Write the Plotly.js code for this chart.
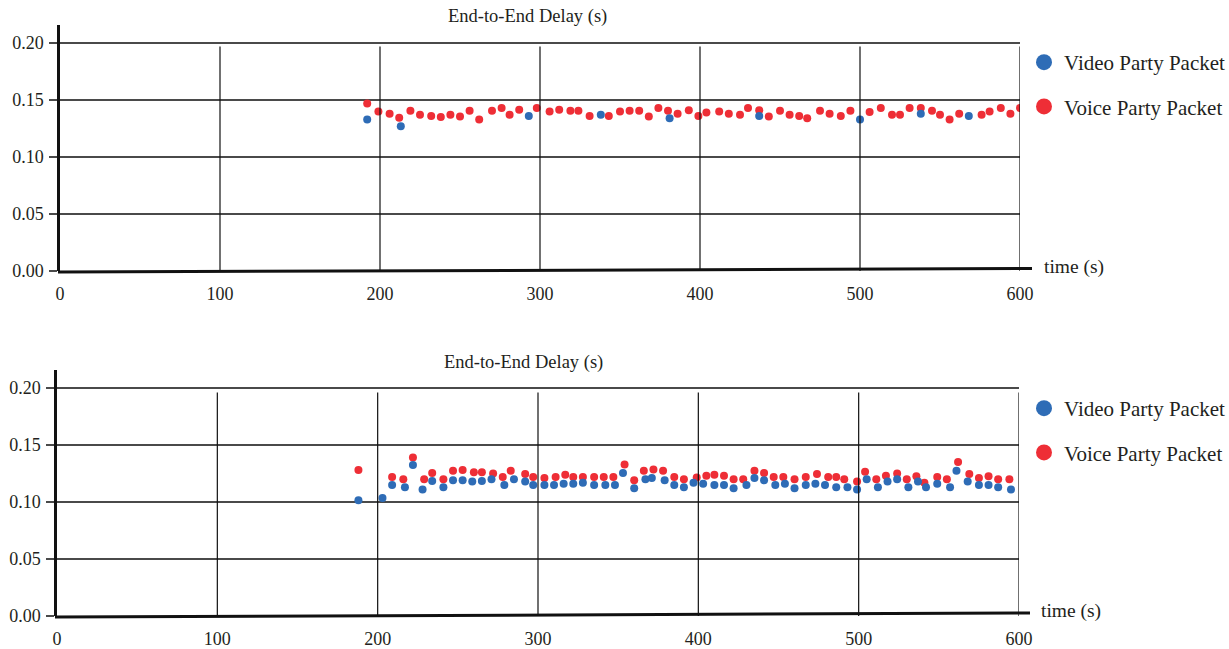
<!DOCTYPE html>
<html>
<head>
<meta charset="utf-8">
<script src="https://cdn.plot.ly/plotly-3.0.1.min.js"></script>
<style>html,body{margin:0;padding:0;background:#fff;}#chart{width:1229px;height:649px;}</style>
</head>
<body>
<div id="chart"></div>
<script>
// ---- data ----
const xTicks = [0, 100, 200, 300, 400, 500, 600];
const yTicks = [0, 0.05, 0.10, 0.15, 0.20];
const yTickText = ["0.00", "0.05", "0.10", "0.15", "0.20"];
const seriesNames = ["Video Party Packet", "Voice Party Packet"];
const panelTitle = "End-to-End Delay (s)";
const xLabel = "time (s)";

// top panel
const topVideoT = [192, 213, 293, 338, 381, 437, 500, 538, 568];
const topVideoY = [0.133, 0.127, 0.136, 0.137, 0.134, 0.136, 0.133, 0.138, 0.136];
const topVoiceT = [192, 199, 206, 212, 219, 225, 232, 238, 244, 250, 256, 262, 270, 276, 281, 287, 298, 306, 312, 319, 324, 331, 343, 350, 356, 362, 368, 374, 380, 386, 393, 399, 404, 412, 418, 425, 430, 437, 443, 450, 456, 462, 467, 475, 481, 488, 494, 506, 513, 520, 525, 531, 538, 545, 550, 556, 562, 576, 581, 588, 594, 600];
const topVoiceY = [0.147, 0.140, 0.138, 0.1345, 0.1405, 0.137, 0.136, 0.135, 0.137, 0.1355, 0.1405, 0.133, 0.1405, 0.143, 0.137, 0.1415, 0.143, 0.140, 0.1415, 0.1405, 0.1405, 0.136, 0.136, 0.140, 0.1405, 0.1405, 0.1355, 0.143, 0.1405, 0.138, 0.141, 0.136, 0.139, 0.140, 0.138, 0.137, 0.143, 0.141, 0.1355, 0.1405, 0.137, 0.136, 0.134, 0.1405, 0.138, 0.136, 0.1405, 0.1395, 0.143, 0.137, 0.137, 0.143, 0.143, 0.1405, 0.137, 0.133, 0.138, 0.137, 0.140, 0.143, 0.138, 0.143];

// bottom panel
const botVoiceT = [188, 209, 216, 222, 229, 234, 241, 247, 253, 260, 265, 272, 278, 283, 292, 297, 304, 311, 317, 322, 328, 335, 341, 347, 354, 360, 366, 372, 378, 385, 391, 399, 405, 410, 416, 422, 428, 435, 441, 447, 453, 460, 467, 474, 481, 486, 491, 499, 504, 511, 517, 524, 530, 536, 541, 549, 555, 562, 569, 575, 581, 587, 594];
const botVoiceY = [0.128, 0.122, 0.120, 0.139, 0.120, 0.1255, 0.120, 0.1275, 0.128, 0.126, 0.126, 0.125, 0.122, 0.1275, 0.1245, 0.122, 0.121, 0.122, 0.124, 0.122, 0.122, 0.122, 0.122, 0.122, 0.133, 0.119, 0.1275, 0.1285, 0.1275, 0.122, 0.120, 0.1215, 0.123, 0.124, 0.123, 0.120, 0.120, 0.1275, 0.1255, 0.122, 0.122, 0.120, 0.122, 0.1245, 0.122, 0.122, 0.120, 0.118, 0.1265, 0.120, 0.123, 0.125, 0.120, 0.1225, 0.117, 0.122, 0.120, 0.135, 0.1245, 0.121, 0.1225, 0.120, 0.120];
const botVideoT = [188, 203, 209, 217, 222, 228, 234, 241, 247, 253, 259, 265, 271, 279, 285, 292, 297, 304, 310, 316, 322, 328, 335, 342, 348, 353, 360, 367, 371, 379, 385, 391, 397, 403, 410, 416, 422, 430, 435, 441, 448, 454, 460, 467, 473, 479, 486, 493, 499, 505, 512, 518, 524, 531, 537, 542, 549, 557, 561, 568, 575, 581, 587, 595];
const botVideoY = [0.1015, 0.1035, 0.115, 0.113, 0.1325, 0.111, 0.1185, 0.113, 0.119, 0.119, 0.118, 0.1185, 0.120, 0.115, 0.120, 0.118, 0.115, 0.115, 0.115, 0.116, 0.116, 0.117, 0.115, 0.115, 0.115, 0.1255, 0.112, 0.120, 0.121, 0.119, 0.115, 0.113, 0.117, 0.116, 0.115, 0.115, 0.112, 0.115, 0.121, 0.119, 0.115, 0.116, 0.112, 0.115, 0.116, 0.115, 0.113, 0.113, 0.111, 0.120, 0.113, 0.118, 0.120, 0.113, 0.118, 0.113, 0.116, 0.113, 0.1275, 0.118, 0.115, 0.115, 0.113, 0.111];

// ---- styling ----
const W = 1229, H = 649;
const BLUE = "#2e6cb6", RED = "#ee2e36";
const FONT = "Liberation Serif, Times New Roman, serif";
const TXT = "#231f20";
const px = v => v / W;
const py = v => 1 - v / H;
const YMAX = 0.2158;

function scatter(t, y, color, xa, ya) {
  return {type: "scatter", mode: "markers", x: t, y: y, xaxis: xa, yaxis: ya,
    marker: {color: color, size: 8}, showlegend: false, hoverinfo: "x+y"};
}
function legendItem(name, color, xa, ya, leg, grp) {
  return {type: "scatter", mode: "markers", x: [null], y: [null], xaxis: xa, yaxis: ya,
    name: name, legend: leg, legendgroup: grp, marker: {color: color, size: 16}, showlegend: true};
}

const traces = [
  scatter(topVoiceT, topVoiceY, RED, "x", "y"),
  scatter(topVideoT, topVideoY, BLUE, "x", "y"),
  scatter(botVoiceT, botVoiceY, RED, "x2", "y2"),
  scatter(botVideoT, botVideoY, BLUE, "x2", "y2"),
  legendItem(seriesNames[0], BLUE, "x", "y", "legend", "a"),
  legendItem(seriesNames[1], RED, "x", "y", "legend", "b"),
  legendItem(seriesNames[0], BLUE, "x2", "y2", "legend2", "c"),
  legendItem(seriesNames[1], RED, "x2", "y2", "legend2", "d"),
];

function xAxis(domain, anchor) {
  return {domain: domain, anchor: anchor, range: [0, 600], tickvals: xTicks,
    showgrid: false, zeroline: false, showline: false, ticks: "", ticklabelstandoff: 10,
    tickfont: {family: FONT, size: 18, color: TXT}, fixedrange: true, automargin: false};
}
function yAxis(domain, anchor) {
  return {domain: domain, anchor: anchor, range: [0, YMAX], tickvals: yTicks, ticktext: yTickText,
    showgrid: true, gridcolor: "#4a4a4a", gridwidth: 1.5, zeroline: false,
    showline: true, linecolor: "#111", linewidth: 2.5, ticks: "outside", ticklen: 8,
    tickcolor: "#4a4a4a", tickwidth: 1.5, ticklabelstandoff: 2,
    tickfont: {family: FONT, size: 18, color: TXT}, fixedrange: true, automargin: false};
}

const shapes = [];
xTicks.forEach(t => {
  if (t === 0) return;
  shapes.push({type: "line", xref: "x", yref: "y", x0: t, x1: t, y0: 0, y1: 0.197, line: {color: "#111", width: 1.2}});
  shapes.push({type: "line", xref: "x2", yref: "y2", x0: t, x1: t, y0: 0, y1: 0.196, line: {color: "#111", width: 1.2}});
});
// slightly tilted baseline axis lines (as in the scanned figure)
shapes.push({type: "line", xref: "paper", yref: "paper", x0: px(58), x1: px(1032), y0: py(272), y1: py(268.5), line: {color: "#111", width: 3}});
shapes.push({type: "line", xref: "paper", yref: "paper", x0: px(55), x1: px(1030), y0: py(617), y1: py(613), line: {color: "#111", width: 3}});

const annFont = {family: FONT, size: 18.5, color: TXT};
const annotations = [
  {text: panelTitle, xref: "paper", yref: "paper", x: px(527), y: py(17), showarrow: false, xanchor: "center", yanchor: "middle", font: annFont},
  {text: panelTitle, xref: "paper", yref: "paper", x: px(523), y: py(362), showarrow: false, xanchor: "center", yanchor: "middle", font: annFont},
  {text: xLabel, xref: "paper", yref: "paper", x: px(1042), y: py(267), showarrow: false, xanchor: "left", yanchor: "middle", font: {family: FONT, size: 19.5, color: TXT}},
  {text: xLabel, xref: "paper", yref: "paper", x: px(1039), y: py(611), showarrow: false, xanchor: "left", yanchor: "middle", font: {family: FONT, size: 19.5, color: TXT}},
];

function legendCfg(yTop) {
  return {x: px(1024), y: py(yTop), xanchor: "left", yanchor: "top", bgcolor: "rgba(0,0,0,0)",
    font: {family: FONT, size: 21, color: TXT}, tracegroupgap: 14, itemwidth: 30, borderwidth: 0};
}

const layout = {
  width: W, height: H, margin: {l: 0, r: 0, t: 0, b: 0, autoexpand: false},
  paper_bgcolor: "#fff", plot_bgcolor: "rgba(0,0,0,0)",
  xaxis: xAxis([px(60), px(1020)], "y"),
  yaxis: yAxis([py(271), py(25)], "x"),
  xaxis2: xAxis([px(57), px(1019)], "y2"),
  yaxis2: yAxis([py(616), py(370)], "x2"),
  legend: legendCfg(42),
  legend2: legendCfg(388),
  shapes: shapes,
  annotations: annotations,
  hovermode: "closest",
};

Plotly.newPlot("chart", traces, layout, {displayModeBar: false, staticPlot: false});
</script>
</body>
</html>
